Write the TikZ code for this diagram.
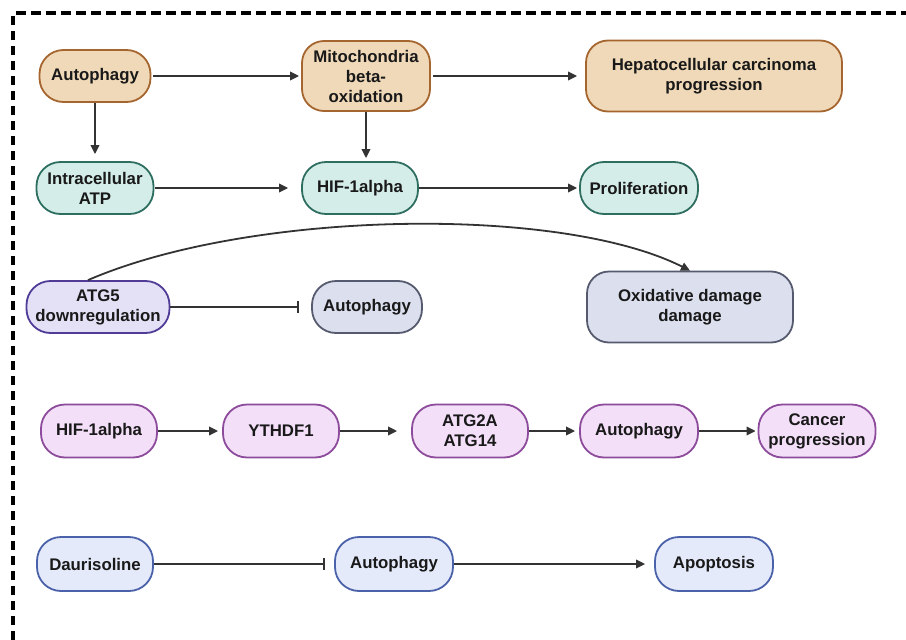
\documentclass[tikz,border=0pt]{standalone}
\usepackage{fontspec}
\setmainfont{Liberation Sans}
\usetikzlibrary{arrows.meta,calc}
\definecolor{tanF}{HTML}{F0D9B8}
\definecolor{tanD}{HTML}{A5652F}
\definecolor{tealF}{HTML}{D4EDE8}
\definecolor{tealD}{HTML}{2E6E60}
\definecolor{purF}{HTML}{E4E1F6}
\definecolor{purD}{HTML}{503C96}
\definecolor{greyF}{HTML}{DCE0EE}
\definecolor{greyD}{HTML}{555A6E}
\definecolor{lilF}{HTML}{F3DFF8}
\definecolor{lilD}{HTML}{8C4B9B}
\definecolor{bluF}{HTML}{E4EAF9}
\definecolor{bluD}{HTML}{4B62AA}
\definecolor{lineC}{HTML}{333333}
\tikzset{
  box/.style={draw, line width=1.8pt, rectangle, rounded corners=24pt, inner sep=0pt,
    align=center, text=black!90, font=\fontsize{16.8}{20}\selectfont\bfseries},
  bigbox/.style={box, rounded corners=22pt},
  tanbox/.style={fill=tanF, draw=tanD},
  tealbox/.style={fill=tealF, draw=tealD},
  purbox/.style={fill=purF, draw=purD},
  greybox/.style={fill=greyF, draw=greyD},
  lilbox/.style={fill=lilF, draw=lilD},
  blubox/.style={fill=bluF, draw=bluD},
  sz/.style 2 args={minimum width=#1pt, minimum height=#2pt},
  arr/.style={draw=lineC, line width=1.8pt, -{Triangle[length=9pt,width=8.5pt]}},
  inh/.style={draw=lineC, line width=1.8pt, -{Bar[width=12pt,line width=1.8pt]}},
}
\begin{document}
\begin{tikzpicture}[x=1pt,y=-1pt]
\useasboundingbox (0,0) rectangle (906,640);
% dashed frame (top and left)
\begin{scope}
\clip (0,0) rectangle (906,640);
\draw[line width=3.4pt, dash pattern=on 9.5pt off 5.5pt] (13,1000) -- (13,13) -- (1000,13);
\end{scope}
% Row 1
\node[box,tanbox,sz={111}{52}] (auto1) at (95,76) {Autophagy};
\node[bigbox,tanbox,sz={128}{70}] (mito) at (366,76) {Mitochondria\\beta-\\oxidation};
\node[bigbox,tanbox,sz={256}{71}] (hcc) at (714,76) {Hepatocellular carcinoma\\progression};
% Row 2
\node[box,tealbox,sz={117}{52}] (atp) at (95,188) {Intracellular\\ATP};
\node[box,tealbox,sz={116}{52}] (hif1) at (360,188) {HIF-1alpha};
\node[box,tealbox,sz={118}{52}] (prolif) at (639,188) {Proliferation};
% Row 3
\node[box,purbox,sz={143}{52}] (atg5) at (98,307) {ATG5\\downregulation};
\node[box,greybox,sz={110}{52}] (auto3) at (367,307) {Autophagy};
\node[bigbox,greybox,sz={206}{71}] (oxd) at (690,307) {Oxidative damage\\damage};
% Row 4
\node[box,lilbox,sz={116}{53}] (hif4) at (99,431) {HIF-1alpha};
\node[box,lilbox,sz={116}{53}] (ythdf) at (281,431) {YTHDF1};
\node[box,lilbox,sz={116}{53}] (atg2a) at (470,431) {ATG2A\\ATG14};
\node[box,lilbox,sz={118}{53}] (auto4) at (639,431) {Autophagy};
\node[box,lilbox,sz={117}{53}] (cancer) at (817,431) {Cancer\\progression};
% Row 5
\node[box,blubox,sz={116}{54}] (dauri) at (95,564) {Daurisoline};
\node[box,blubox,sz={118}{54}] (auto5) at (394,564) {Autophagy};
\node[box,blubox,sz={118}{54}] (apop) at (714,564) {Apoptosis};
% Connectors row 1-2
\draw[arr, shorten >=2pt, shorten <=2pt] (auto1.east) -- (mito.west |- auto1.east);
\draw[arr, shorten >=8pt, shorten <=2pt] (mito.east |- hcc.west) -- (hcc.west);
\draw[arr, shorten >=7pt] (auto1.south) -- (atp.north);
\draw[arr, shorten >=3pt] (mito.south) -- (mito.south |- hif1.north);
\draw[arr, shorten >=13pt, shorten <=1pt] (atp.east) -- (hif1.west);
\draw[arr, shorten >=2pt] (hif1.east) -- (prolif.west);
% Row 3
\draw[inh, shorten >=12pt] (atg5.east) -- (auto3.west);
\draw[draw=lineC, line width=1.8pt, -{Triangle[length=9pt,width=8.5pt]}]
  ([xshift=-10pt]atg5.north) .. controls (250,210) and (560,205) .. (oxd.north);
% Row 4
\draw[arr, shorten >=4pt] (hif4.east) -- (ythdf.west);
\draw[arr, shorten >=14pt] (ythdf.east) -- (atg2a.west);
\draw[arr, shorten >=4pt] (atg2a.east) -- (auto4.west);
\draw[arr, shorten >=2pt] (auto4.east) -- (cancer.west);
% Row 5
\draw[inh, shorten >=9pt] (dauri.east) -- (auto5.west);
\draw[arr, shorten >=9pt] (auto5.east) -- (apop.west);
\end{tikzpicture}
\end{document}
